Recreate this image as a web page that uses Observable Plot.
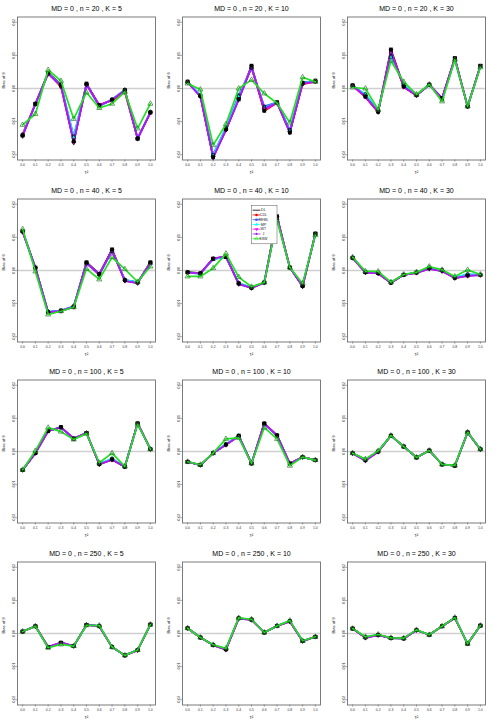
<!DOCTYPE html>
<html><head><meta charset="utf-8">
<script src="https://cdn.jsdelivr.net/npm/d3@7"></script>
<script src="https://cdn.jsdelivr.net/npm/@observablehq/plot@0.6"></script>
<style>
body{margin:0;background:#fff;font-family:"Liberation Sans",Arial,sans-serif}
#grid{position:relative;width:495px;height:726px;overflow:hidden}
.cell{position:absolute;width:165px;height:181.5px}
.cell svg{display:block}
</style></head><body><div id="grid"></div>
<script>
// ---------- data ----------
const tau = [0.0, 0.1, 0.2, 0.3, 0.4, 0.5, 0.6, 0.7, 0.8, 0.9, 1.0];
const xTicks = [0.0, 0.1, 0.2, 0.3, 0.4, 0.5, 0.6, 0.7, 0.8, 0.9, 1.0];
const yTicks = [-0.02, -0.01, 0.00, 0.01, 0.02];
const methods = ["DL", "CDL", "REML", "MP", "WT", "J", "SSW"];
const colors = ["#000000", "#FF0000", "#3050FF", "#00FFFF", "#FF00FF", "#A020F0", "#22E022"];
const sampleSizes = [20, 40, 100, 250];
const studyCounts = [5, 10, 30];

// n = 20
const DL_20_5   = [-0.0142, -0.0046, 0.0048, 0.0012, -0.0159, 0.0015, -0.0051, -0.0034, -0.0005, -0.0152, -0.0072];
const CDL_20_5  = [-0.0138, -0.0046, 0.0046, 0.0005, -0.0162, 0.0013, -0.0050, -0.0036, -0.0012, -0.0150, -0.0074];
const REML_20_5 = [-0.0140, -0.0048, 0.0045, 0.0010, -0.0144, 0.0012, -0.0054, -0.0033, -0.0004, -0.0150, -0.0071];
const MP_20_5   = [-0.0141, -0.0047, 0.0046, 0.0011, -0.0147, 0.0013, -0.0053, -0.0033, -0.0004, -0.0151, -0.0071];
const WT_20_5   = [-0.0144, -0.0046, 0.0044, 0.0008, -0.0164, 0.0012, -0.0050, -0.0035, -0.0006, -0.0152, -0.0073];
const J_20_5    = [-0.0142, -0.0047, 0.0045, 0.0009, -0.0160, 0.0012, -0.0052, -0.0034, -0.0005, -0.0151, -0.0072];
const SSW_20_5  = [-0.0110, -0.0077, 0.0056, 0.0023, -0.0092, -0.0012, -0.0059, -0.0046, -0.0010, -0.0121, -0.0046];

const DL_20_10   = [0.0021, -0.0023, -0.0207, -0.0123, -0.0033, 0.0069, -0.0067, -0.0041, -0.0133, 0.0017, 0.0024];
const CDL_20_10  = [0.0019, -0.0022, -0.0204, -0.0125, -0.0030, 0.0063, -0.0068, -0.0043, -0.0128, 0.0013, 0.0020];
const REML_20_10 = [0.0020, -0.0020, -0.0200, -0.0118, -0.0020, 0.0062, -0.0054, -0.0042, -0.0125, 0.0018, 0.0022];
const MP_20_10   = [0.0020, -0.0021, -0.0202, -0.0120, -0.0024, 0.0064, -0.0058, -0.0042, -0.0128, 0.0017, 0.0022];
const WT_20_10   = [0.0019, -0.0024, -0.0208, -0.0125, -0.0032, 0.0066, -0.0064, -0.0044, -0.0132, 0.0014, 0.0021];
const J_20_10    = [0.0018, -0.0025, -0.0210, -0.0126, -0.0034, 0.0064, -0.0060, -0.0043, -0.0134, 0.0015, 0.0021];
const SSW_20_10  = [0.0015, -0.0003, -0.0171, -0.0108, 0.0000, 0.0026, -0.0015, -0.0044, -0.0103, 0.0034, 0.0020];

const DL_20_30   = [0.0010, -0.0024, -0.0070, 0.0118, 0.0007, -0.0020, 0.0012, -0.0029, 0.0092, -0.0054, 0.0069];
const CDL_20_30  = [0.0008, -0.0026, -0.0072, 0.0110, 0.0004, -0.0021, 0.0011, -0.0031, 0.0090, -0.0054, 0.0068];
const REML_20_30 = [0.0008, -0.0018, -0.0066, 0.0098, 0.0012, -0.0020, 0.0012, -0.0033, 0.0088, -0.0054, 0.0067];
const MP_20_30   = [0.0008, -0.0017, -0.0066, 0.0095, 0.0013, -0.0020, 0.0012, -0.0034, 0.0088, -0.0054, 0.0067];
const WT_20_30   = [0.0009, -0.0025, -0.0071, 0.0115, 0.0005, -0.0021, 0.0011, -0.0030, 0.0092, -0.0055, 0.0069];
const J_20_30    = [0.0009, -0.0023, -0.0070, 0.0108, 0.0006, -0.0021, 0.0011, -0.0030, 0.0091, -0.0055, 0.0068];
const SSW_20_30  = [0.0003, 0.0000, -0.0064, 0.0084, 0.0020, -0.0018, 0.0012, -0.0039, 0.0087, -0.0054, 0.0064];

// n = 40
const DL_40_5   = [0.0118, 0.0009, -0.0126, -0.0121, -0.0109, 0.0025, -0.0010, 0.0064, -0.0029, -0.0036, 0.0025];
const CDL_40_5  = [0.0117, 0.0008, -0.0127, -0.0122, -0.0110, 0.0024, -0.0012, 0.0062, -0.0031, -0.0037, 0.0024];
const REML_40_5 = [0.0119, 0.0008, -0.0125, -0.0121, -0.0108, 0.0021, -0.0012, 0.0058, -0.0028, -0.0036, 0.0022];
const MP_40_5   = [0.0119, 0.0008, -0.0125, -0.0121, -0.0108, 0.0022, -0.0012, 0.0059, -0.0028, -0.0036, 0.0022];
const WT_40_5   = [0.0117, 0.0007, -0.0127, -0.0122, -0.0110, 0.0023, -0.0013, 0.0061, -0.0031, -0.0038, 0.0023];
const J_40_5    = [0.0118, 0.0008, -0.0126, -0.0122, -0.0110, 0.0022, -0.0012, 0.0060, -0.0032, -0.0038, 0.0022];
const SSW_40_5  = [0.0125, -0.0003, -0.0133, -0.0123, -0.0111, 0.0005, -0.0027, 0.0040, 0.0004, -0.0034, 0.0012];

const DL_40_10   = [-0.0005, -0.0008, 0.0036, 0.0041, -0.0039, -0.0052, -0.0036, 0.0164, 0.0009, -0.0047, 0.0112];
const CDL_40_10  = [-0.0006, -0.0009, 0.0035, 0.0042, -0.0040, -0.0053, -0.0036, 0.0160, 0.0009, -0.0048, 0.0111];
const REML_40_10 = [-0.0006, -0.0010, 0.0034, 0.0040, -0.0038, -0.0052, -0.0036, 0.0156, 0.0009, -0.0045, 0.0110];
const MP_40_10   = [-0.0006, -0.0010, 0.0034, 0.0041, -0.0038, -0.0052, -0.0036, 0.0157, 0.0009, -0.0046, 0.0110];
const WT_40_10   = [-0.0006, -0.0009, 0.0036, 0.0043, -0.0041, -0.0053, -0.0037, 0.0160, 0.0009, -0.0048, 0.0111];
const J_40_10    = [-0.0006, -0.0009, 0.0037, 0.0043, -0.0041, -0.0053, -0.0037, 0.0158, 0.0009, -0.0048, 0.0110];
const SSW_40_10  = [-0.0018, -0.0018, 0.0007, 0.0051, -0.0020, -0.0049, -0.0036, 0.0151, 0.0009, -0.0039, 0.0107];

const DL_40_30   = [0.0038, -0.0005, -0.0008, -0.0037, -0.0013, -0.0006, 0.0007, 0.0000, -0.0022, -0.0015, -0.0013];
const CDL_40_30  = [0.0038, -0.0006, -0.0009, -0.0037, -0.0013, -0.0007, 0.0006, -0.0001, -0.0023, -0.0015, -0.0013];
const REML_40_30 = [0.0039, -0.0005, -0.0008, -0.0036, -0.0013, -0.0006, 0.0009, 0.0001, -0.0021, -0.0012, -0.0013];
const MP_40_30   = [0.0039, -0.0005, -0.0007, -0.0036, -0.0013, -0.0006, 0.0009, 0.0001, -0.0021, -0.0011, -0.0013];
const WT_40_30   = [0.0038, -0.0006, -0.0009, -0.0037, -0.0013, -0.0007, 0.0005, -0.0002, -0.0023, -0.0016, -0.0014];
const J_40_30    = [0.0038, -0.0006, -0.0009, -0.0037, -0.0013, -0.0007, 0.0005, -0.0002, -0.0023, -0.0016, -0.0014];
const SSW_40_30  = [0.0040, -0.0002, -0.0003, -0.0035, -0.0012, -0.0005, 0.0012, 0.0002, -0.0018, 0.0002, -0.0012];

// n = 100
const DL_100_5   = [-0.0056, -0.0005, 0.0062, 0.0074, 0.0039, 0.0056, -0.0038, -0.0024, -0.0046, 0.0085, 0.0007];
const CDL_100_5  = [-0.0056, -0.0005, 0.0062, 0.0073, 0.0039, 0.0056, -0.0038, -0.0024, -0.0046, 0.0085, 0.0007];
const REML_100_5 = [-0.0056, -0.0004, 0.0063, 0.0072, 0.0039, 0.0056, -0.0037, -0.0022, -0.0046, 0.0085, 0.0007];
const MP_100_5   = [-0.0056, -0.0004, 0.0063, 0.0072, 0.0039, 0.0056, -0.0037, -0.0022, -0.0046, 0.0085, 0.0007];
const WT_100_5   = [-0.0056, -0.0005, 0.0062, 0.0073, 0.0039, 0.0056, -0.0039, -0.0025, -0.0046, 0.0085, 0.0007];
const J_100_5    = [-0.0056, -0.0005, 0.0062, 0.0073, 0.0040, 0.0056, -0.0039, -0.0025, -0.0046, 0.0085, 0.0007];
const SSW_100_5  = [-0.0055, 0.0002, 0.0072, 0.0060, 0.0036, 0.0054, -0.0034, -0.0005, -0.0045, 0.0082, 0.0007];

const DL_100_10   = [-0.0031, -0.0041, -0.0005, 0.0021, 0.0048, -0.0036, 0.0085, 0.0049, -0.0036, -0.0017, -0.0026];
const CDL_100_10  = [-0.0031, -0.0041, -0.0005, 0.0021, 0.0047, -0.0036, 0.0085, 0.0049, -0.0036, -0.0017, -0.0026];
const REML_100_10 = [-0.0031, -0.0041, -0.0005, 0.0022, 0.0047, -0.0036, 0.0083, 0.0048, -0.0037, -0.0017, -0.0026];
const MP_100_10   = [-0.0031, -0.0041, -0.0005, 0.0022, 0.0047, -0.0036, 0.0083, 0.0048, -0.0037, -0.0017, -0.0026];
const WT_100_10   = [-0.0031, -0.0041, -0.0005, 0.0020, 0.0046, -0.0036, 0.0084, 0.0048, -0.0037, -0.0017, -0.0026];
const J_100_10    = [-0.0031, -0.0041, -0.0005, 0.0020, 0.0046, -0.0036, 0.0084, 0.0048, -0.0037, -0.0017, -0.0026];
const SSW_100_10  = [-0.0031, -0.0040, -0.0005, 0.0038, 0.0041, -0.0036, 0.0072, 0.0038, -0.0043, -0.0017, -0.0026];

const DL_100_30   = [-0.0005, -0.0026, 0.0000, 0.0048, 0.0015, -0.0018, 0.0003, -0.0039, -0.0043, 0.0058, 0.0007];
const CDL_100_30  = [-0.0005, -0.0026, 0.0000, 0.0048, 0.0015, -0.0018, 0.0003, -0.0039, -0.0043, 0.0058, 0.0007];
const REML_100_30 = [-0.0005, -0.0025, 0.0000, 0.0048, 0.0015, -0.0018, 0.0003, -0.0039, -0.0043, 0.0058, 0.0007];
const MP_100_30   = [-0.0005, -0.0025, 0.0000, 0.0048, 0.0015, -0.0018, 0.0003, -0.0039, -0.0043, 0.0058, 0.0007];
const WT_100_30   = [-0.0006, -0.0028, -0.0001, 0.0048, 0.0015, -0.0018, 0.0003, -0.0039, -0.0043, 0.0057, 0.0006];
const J_100_30    = [-0.0006, -0.0028, -0.0001, 0.0048, 0.0015, -0.0018, 0.0003, -0.0039, -0.0043, 0.0057, 0.0006];
const SSW_100_30  = [-0.0005, -0.0023, 0.0002, 0.0048, 0.0015, -0.0018, 0.0003, -0.0039, -0.0042, 0.0058, 0.0007];

// n = 250
const DL_250_5   = [0.0006, 0.0022, -0.0041, -0.0028, -0.0038, 0.0026, 0.0022, -0.0041, -0.0066, -0.0050, 0.0027];
const CDL_250_5  = [0.0006, 0.0022, -0.0041, -0.0028, -0.0038, 0.0026, 0.0022, -0.0041, -0.0066, -0.0050, 0.0027];
const REML_250_5 = [0.0006, 0.0022, -0.0042, -0.0030, -0.0038, 0.0026, 0.0023, -0.0041, -0.0066, -0.0050, 0.0027];
const MP_250_5   = [0.0006, 0.0022, -0.0042, -0.0030, -0.0038, 0.0026, 0.0023, -0.0041, -0.0066, -0.0050, 0.0027];
const WT_250_5   = [0.0006, 0.0022, -0.0040, -0.0027, -0.0038, 0.0026, 0.0022, -0.0041, -0.0066, -0.0051, 0.0027];
const J_250_5    = [0.0006, 0.0022, -0.0040, -0.0027, -0.0038, 0.0026, 0.0022, -0.0041, -0.0066, -0.0051, 0.0027];
const SSW_250_5  = [0.0006, 0.0022, -0.0043, -0.0033, -0.0038, 0.0025, 0.0024, -0.0041, -0.0066, -0.0050, 0.0027];

const DL_250_10   = [0.0016, -0.0012, -0.0035, -0.0048, 0.0046, 0.0042, 0.0003, 0.0023, 0.0037, -0.0023, -0.0010];
const CDL_250_10  = [0.0016, -0.0012, -0.0035, -0.0048, 0.0046, 0.0042, 0.0003, 0.0023, 0.0037, -0.0023, -0.0010];
const REML_250_10 = [0.0016, -0.0012, -0.0035, -0.0047, 0.0046, 0.0042, 0.0003, 0.0023, 0.0038, -0.0023, -0.0010];
const MP_250_10   = [0.0016, -0.0012, -0.0035, -0.0047, 0.0046, 0.0042, 0.0003, 0.0023, 0.0038, -0.0023, -0.0010];
const WT_250_10   = [0.0016, -0.0012, -0.0035, -0.0049, 0.0045, 0.0041, 0.0003, 0.0023, 0.0036, -0.0023, -0.0010];
const J_250_10    = [0.0016, -0.0012, -0.0035, -0.0049, 0.0045, 0.0041, 0.0003, 0.0023, 0.0036, -0.0023, -0.0010];
const SSW_250_10  = [0.0016, -0.0012, -0.0034, -0.0045, 0.0047, 0.0043, 0.0003, 0.0023, 0.0039, -0.0022, -0.0010];

const DL_250_30   = [0.0015, -0.0012, -0.0004, -0.0014, -0.0015, 0.0010, -0.0004, 0.0022, 0.0047, -0.0031, 0.0024];
const CDL_250_30  = [0.0015, -0.0012, -0.0004, -0.0014, -0.0015, 0.0010, -0.0004, 0.0022, 0.0047, -0.0031, 0.0024];
const REML_250_30 = [0.0015, -0.0011, -0.0004, -0.0014, -0.0015, 0.0010, -0.0004, 0.0022, 0.0047, -0.0031, 0.0024];
const MP_250_30   = [0.0015, -0.0011, -0.0004, -0.0014, -0.0015, 0.0010, -0.0004, 0.0022, 0.0047, -0.0031, 0.0024];
const WT_250_30   = [0.0015, -0.0013, -0.0005, -0.0014, -0.0015, 0.0010, -0.0004, 0.0022, 0.0047, -0.0031, 0.0024];
const J_250_30    = [0.0015, -0.0013, -0.0005, -0.0014, -0.0015, 0.0010, -0.0004, 0.0022, 0.0047, -0.0031, 0.0024];
const SSW_250_30  = [0.0015, -0.0010, -0.0003, -0.0013, -0.0014, 0.0011, -0.0004, 0.0022, 0.0048, -0.0031, 0.0024];

const panelSeries = {
  "20_5":   [DL_20_5, CDL_20_5, REML_20_5, MP_20_5, WT_20_5, J_20_5, SSW_20_5],
  "20_10":  [DL_20_10, CDL_20_10, REML_20_10, MP_20_10, WT_20_10, J_20_10, SSW_20_10],
  "20_30":  [DL_20_30, CDL_20_30, REML_20_30, MP_20_30, WT_20_30, J_20_30, SSW_20_30],
  "40_5":   [DL_40_5, CDL_40_5, REML_40_5, MP_40_5, WT_40_5, J_40_5, SSW_40_5],
  "40_10":  [DL_40_10, CDL_40_10, REML_40_10, MP_40_10, WT_40_10, J_40_10, SSW_40_10],
  "40_30":  [DL_40_30, CDL_40_30, REML_40_30, MP_40_30, WT_40_30, J_40_30, SSW_40_30],
  "100_5":  [DL_100_5, CDL_100_5, REML_100_5, MP_100_5, WT_100_5, J_100_5, SSW_100_5],
  "100_10": [DL_100_10, CDL_100_10, REML_100_10, MP_100_10, WT_100_10, J_100_10, SSW_100_10],
  "100_30": [DL_100_30, CDL_100_30, REML_100_30, MP_100_30, WT_100_30, J_100_30, SSW_100_30],
  "250_5":  [DL_250_5, CDL_250_5, REML_250_5, MP_250_5, WT_250_5, J_250_5, SSW_250_5],
  "250_10": [DL_250_10, CDL_250_10, REML_250_10, MP_250_10, WT_250_10, J_250_10, SSW_250_10],
  "250_30": [DL_250_30, CDL_250_30, REML_250_30, MP_250_30, WT_250_30, J_250_30, SSW_250_30]
};

// ---------- drawing ----------
const triangleDown = {
  draw(context, size) {
    const y = -Math.sqrt(size / (Math.sqrt(3) * 3));
    context.moveTo(0, -2 * y);
    context.lineTo(-Math.sqrt(3) * y, y);
    context.lineTo(Math.sqrt(3) * y, y);
    context.closePath();
  }
};
const symbols = ["plus", "circle", "square", "triangle", triangleDown, "diamond2", "triangle"];

const CELL_W = 165, CELL_H = 181.5;
const grid = document.getElementById("grid");
const FONT = "Liberation Sans, Arial, sans-serif";

sampleSizes.forEach((n, r) => {
  studyCounts.forEach((K, c) => {
    const series = panelSeries[`${n}_${K}`];
    const marks = [
      Plot.ruleY([0], {stroke: "#cfcfcf", strokeWidth: 1.6}),
      Plot.frame({stroke: "#6e6e6e", strokeWidth: 0.9}),
      Plot.axisX({ticks: xTicks, tickSize: 2.2, tickPadding: 1.2, fontSize: 3.4, stroke: "#555", strokeWidth: 0.5, fill: "#333", tickFormat: d => d.toFixed(1), label: null}),
      Plot.axisY({ticks: yTicks, tickSize: 2.2, tickPadding: 0.6, tickRotate: -90, fontSize: 3.4, stroke: "#555", strokeWidth: 0.5, fill: "#333", tickFormat: d => d.toFixed(2), label: null}),
      Plot.text([`MD = 0 , n = ${n} , K = ${K}`], {frameAnchor: "top", dy: -8.3, fontSize: 7, fill: "#000", lineAnchor: "middle"}),
      Plot.text(["τ²"], {frameAnchor: "bottom", dy: 13, fontSize: 4.6, fill: "#222", lineAnchor: "middle"}),
      Plot.text(["Bias of θ"], {frameAnchor: "left", dx: -14.2, rotate: -90, fontSize: 4.2, fill: "#222", lineAnchor: "middle"})
    ];
    const rowsOf = i => tau.map((t, j) => ({tau: t, value: series[i][j], method: methods[i]}));
    // lines and markers of CDL ... J
    for (let i = 0; i < 6; i++) {
      marks.push(Plot.line(rowsOf(i), {x: "tau", y: "value", stroke: colors[i], strokeWidth: 1.7}));
    }
    for (let i = 1; i < 6; i++) {
      marks.push(Plot.dot(rowsOf(i), {x: "tau", y: "value", symbol: symbols[i], r: 1.5, fill: colors[i], stroke: "#000", strokeWidth: 0.6}));
    }
    // DL markers: black squares on top
    marks.push(Plot.dot(rowsOf(0), {x: "tau", y: "value", symbol: "square", r: 2.1, fill: "#000", stroke: "none"}));
    // SSW line and open triangles last
    marks.push(Plot.line(rowsOf(6), {x: "tau", y: "value", stroke: colors[6], strokeWidth: 1.7}));
    marks.push(Plot.dot(rowsOf(6), {x: "tau", y: "value", symbol: "triangle", r: 1.9, stroke: "#2a7a2a", strokeWidth: 0.7, fill: "none"}));

    const svg = Plot.plot({
      width: CELL_W, height: CELL_H,
      marginTop: 16.5, marginBottom: 22, marginLeft: 17, marginRight: 10,
      style: {fontFamily: FONT, background: "#fff", overflow: "visible", color: "#000"},
      x: {domain: [-0.04, 1.04], axis: null},
      y: {domain: [-0.0216, 0.0216], axis: null},
      marks
    });
    if (n === 40 && K === 10) {
      const g = d3.select(svg).append("g").attr("font-family", FONT);
      g.append("rect").attr("x", 86.5).attr("y", 23.5).attr("width", 25.5).attr("height", 38.3)
        .attr("fill", "#fff").attr("stroke", "#555").attr("stroke-width", 0.5);
      methods.forEach((m, i) => {
        const y = 28.2 + i * 4.75;
        g.append("line").attr("x1", 87.6).attr("x2", 95.4).attr("y1", y).attr("y2", y)
          .attr("stroke", colors[i]).attr("stroke-width", 0.8);
        const sym = typeof symbols[i] === "string"
          ? {plus: d3.symbolPlus, circle: d3.symbolCircle, square: d3.symbolSquare, triangle: d3.symbolTriangle, diamond2: d3.symbolDiamond2}[symbols[i]]
          : symbols[i];
        g.append("path").attr("d", d3.symbol(sym, 5)())
          .attr("transform", `translate(91.5,${y})`)
          .attr("fill", m === "SSW" ? "none" : colors[i])
          .attr("stroke", m === "SSW" ? colors[i] : "none").attr("stroke-width", 0.5);
        g.append("text").attr("x", 98.4).attr("y", y).attr("dy", "0.35em")
          .attr("font-size", 3.6).attr("fill", "#222").text(m);
      });
    }
    const cell = document.createElement("div");
    cell.className = "cell";
    cell.style.left = (c * CELL_W) + "px";
    cell.style.top = (r * CELL_H) + "px";
    cell.appendChild(svg);
    grid.appendChild(cell);
  });
});
</script></body></html>
